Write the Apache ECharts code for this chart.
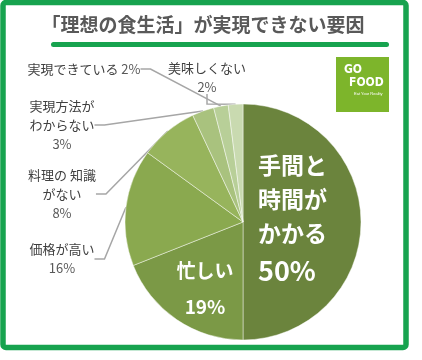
<!DOCTYPE html>
<html><head><meta charset="utf-8">
<script src="https://cdn.jsdelivr.net/npm/echarts@6/dist/echarts.min.js"></script>
<style>html,body{margin:0;padding:0;background:#fff}#c{width:422px;height:360px}</style>
</head><body><div id="c"></div>
<script>
const titleText = '「理想の食生活」が実現できない要因';
const categories = ['手間と時間がかかる','忙しい','価格が高い','料理の知識がない','実現方法がわからない','実現できている','美味しくない'];
const values = [50,19,16,8,3,2,2];
const labelLines = [['手間と','時間が','かかる'],['忙しい'],['価格が高い'],['料理の 知識','がない'],['実現方法が','わからない'],['実現できている'],['美味しくない']];

const colors = ['#6b843d','#7b9946','#8aa94f','#97b45c','#a9c27e','#b8cf98','#c9dab0'];
const FONT = '"Noto Sans CJK JP", sans-serif';
const inside = [true,true,false,false,false,false,false];
const labelPos = [
  {x:258,y:220,align:'left'},
  {x:205,y:289,align:'center'},
  {x:62,y:259,align:'center'},
  {x:62,y:194,align:'center'},
  {x:62,y:125,align:'center'},
  {x:31,y:69,align:'left'},
  {x:207,y:78,align:'center'}
];

function fmt(i){
  const v = values[i] + '%';
  if (i === 0) return labelLines[0].map(s => '{a|' + s + '}').join('\n') + '\n{b|' + v + '}';
  if (i === 1) return '{c|' + labelLines[1][0] + '}\n{d|' + v + '}';
  if (i === 5) return '{o|' + labelLines[5][0] + ' }{p|' + v + '}';
  return labelLines[i].map(s => '{o|' + s + '}').join('\n') + '\n{p|' + v + '}';
}

const data = categories.map((name, i) => ({
  name: name,
  value: values[i],
  itemStyle: {color: colors[i]},
  label: {show: true, position: inside[i] ? 'inside' : 'outside', formatter: () => fmt(i)},
  labelLine: {show: !inside[i]}
}));

const chart = echarts.init(document.getElementById('c'));
chart.setOption({
  animation: false,
  backgroundColor: '#fff',
  graphic: [
    {type:'text', x:203, y:25, style:{text:titleText, textAlign:'center', textVerticalAlign:'middle', fill:'#595959', font:'bold 19px "Noto Sans CJK JP", sans-serif'}},
    {type:'rect', shape:{x:3,y:2.5,width:403,height:345,r:3}, style:{fill:'none',stroke:'#17a34f',lineWidth:5.5}, z:10},
    {type:'rect', shape:{x:51,y:42,width:338,height:5,r:2.5}, style:{fill:'#17a34f'}},
    {type:'group', children:[
      {type:'rect', shape:{x:336,y:57,width:53,height:55}, style:{fill:'#7db52b'}},
      {type:'text', x:344, y:64, style:{text:'GO', fill:'#fff', font:'bold 12px "DejaVu Sans Condensed", sans-serif'}},
      {type:'text', x:349, y:77, style:{text:'FOOD', fill:'#fff', font:'bold 12px "DejaVu Sans Condensed", sans-serif'}},
      {type:'text', x:354, y:92, style:{text:'Eat Your Reality', fill:'#fff', font:'4px sans-serif'}}
    ]}
  ],
  series: [{
    type: 'pie',
    center: [243, 222],
    radius: 118,
    startAngle: 90,
    clockwise: true,
    data: data,
    itemStyle: {borderColor: 'rgba(255,255,255,0.45)', borderWidth: 1},
    label: {
      fontFamily: FONT,
      overflow: 'none',
      rich: {
        a: {fontFamily: FONT, fontSize: 23, fontWeight: 'bold', color: '#fff', lineHeight: 34},
        b: {fontFamily: FONT, fontSize: 27, fontWeight: 'bold', color: '#fff', lineHeight: 42},
        c: {fontFamily: FONT, fontSize: 19, fontWeight: 'bold', color: '#fff', lineHeight: 36, align: 'center'},
        d: {fontFamily: FONT, fontSize: 19, fontWeight: 'bold', color: '#fff', lineHeight: 36, align: 'center'},
        o: {fontFamily: FONT, fontSize: 13, color: '#404040', lineHeight: 19, align: 'center'},
        p: {fontFamily: FONT, fontSize: 13, color: '#595959', lineHeight: 19, align: 'center'}
      }
    },
    labelLine: {lineStyle: {color: '#a6a6a6', width: 1.5}, length: 10, length2: 10},
    labelLayout: function(params){
      const p = labelPos[params.dataIndex];
      return {x: p.x, y: p.y, align: p.align, verticalAlign: 'middle'};
    },
    emphasis: {disabled: true}
  }]
});
</script></body></html>
